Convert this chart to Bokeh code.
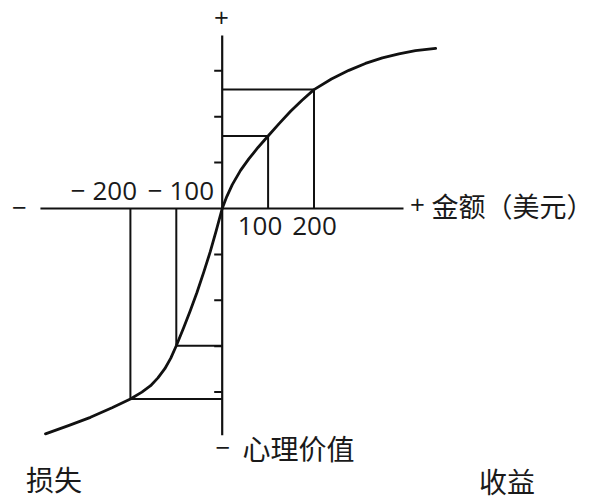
from bokeh.plotting import figure
from bokeh.models import Range1d
from bokeh.core.properties import value
from bokeh.embed import file_html
from bokeh.resources import INLINE

# ---- data ----
# value function, gains side (amount in dollars -> psychological value)
gain_x = [0, 10, 22, 40, 58, 78, 100, 124, 149, 174, 200, 238, 276, 312, 349, 385, 421, 465]
gain_y = [0, 26, 52, 83, 108, 133, 158, 185, 212, 236, 259, 282, 301, 316, 328, 337, 344, 349]
# losses side
loss_x = [0, -13, -26, -40, -55, -70, -84, -100, -112, -125, -140, -156, -175, -200,
          -240, -287, -335, -385]
loss_y = [0, -48, -94, -138, -183, -224, -260, -299, -326, -349, -369, -386, -400, -415,
          -434, -455, -473, -491]

# amounts marked with guide rectangles
marked_amounts = [-200, -100, 100, 200]
neg_tick_labels = ["\u2212 200", "\u2212 100"]
pos_tick_labels = ["100", "200"]

# axes extent and value-axis ticks
x_axis_extent = [-396, 395]
y_axis_extent = [-494, 377]
value_ticks = [-400, -300, -200, -100, 100, 200, 300]

x_axis_title = "金额（美元）"
y_axis_title = "心理价值"
loss_label = "损失"
gain_label = "收益"

# ---- layout ----
W, H = 594, 500
S = 0.459            # pixels per unit
OX, OY = 221.7, 208  # origin in picture pixels

def dx(px):
    return (px - OX) / S

def dy(py):
    return (OY - py) / S

p = figure(width=W, height=H, output_backend="svg", toolbar_location=None,
           x_range=Range1d(dx(0), dx(W)),
           y_range=Range1d(dy(H), dy(0)),
           min_border=0, outline_line_color=None)
p.axis.visible = False
p.grid.visible = False
p.background_fill_color = "white"
p.border_fill_color = "white"

INK = "#111111"

# axes
p.line(x=x_axis_extent, y=[0, 0], line_color=INK, line_width=2.2)
p.line(x=[0, 0], y=y_axis_extent, line_color=INK, line_width=2.2)
tick_len = 8 / S
p.segment(x0=[-tick_len] * len(value_ticks), y0=value_ticks,
          x1=[0] * len(value_ticks), y1=value_ticks,
          line_color=INK, line_width=2)

# guide rectangles
curve = dict(zip(loss_x + gain_x, loss_y + gain_y))
mv = [curve[a] for a in marked_amounts]
p.segment(x0=marked_amounts, y0=[0] * 4, x1=marked_amounts, y1=mv,
          line_color=INK, line_width=2)
p.segment(x0=[0] * 4, y0=mv, x1=marked_amounts, y1=mv,
          line_color=INK, line_width=2)

# value function curve
cx = loss_x[::-1] + gain_x[1:]
cy = loss_y[::-1] + gain_y[1:]
p.line(x=cx, y=cy, line_color=INK, line_width=2.8,
       line_join="round", line_cap="round")

LAT = value("Open Sans")
CJK = value("Noto Sans CJK SC")
TXT = "#1a1a1a"

# tick labels
p.text(x=[dx(136.5), dx(213.5)], y=[dy(189)] * 2, text=neg_tick_labels,
       text_font=LAT, text_font_size="26px", text_align="right",
       text_baseline="middle", text_color=TXT)
p.text(x=[dx(259.5), dx(314)], y=[dy(225)] * 2, text=pos_tick_labels,
       text_font=LAT, text_font_size="26px", text_align="center",
       text_baseline="middle", text_color=TXT)

# + / - signs at axis ends
p.text(x=[dx(221), dx(417)], y=[dy(17.5), dy(204.5)], text=["+", "+"],
       text_font=LAT, text_font_size="26px", text_align="center",
       text_baseline="middle", text_color=TXT)
p.text(x=[dx(19), dx(222.5)], y=[dy(207), dy(447)], text=["\u2212", "\u2212"],
       text_font=LAT, text_font_size="26px", text_align="center",
       text_baseline="middle", text_color=TXT)

# Chinese labels
p.text(x=[dx(431)], y=[dy(205)], text=[x_axis_title],
       text_font=CJK, text_font_size="27px", text_align="left",
       text_baseline="middle", text_color=TXT)
p.text(x=[dx(242), dx(25.5), dx(478.5)],
       y=[dy(447), dy(478.5), dy(480)],
       text=[y_axis_title, loss_label, gain_label],
       text_font=CJK, text_font_size="28px", text_align="left",
       text_baseline="middle", text_color=TXT)

open("out.html", "w").write(file_html(p, INLINE))
